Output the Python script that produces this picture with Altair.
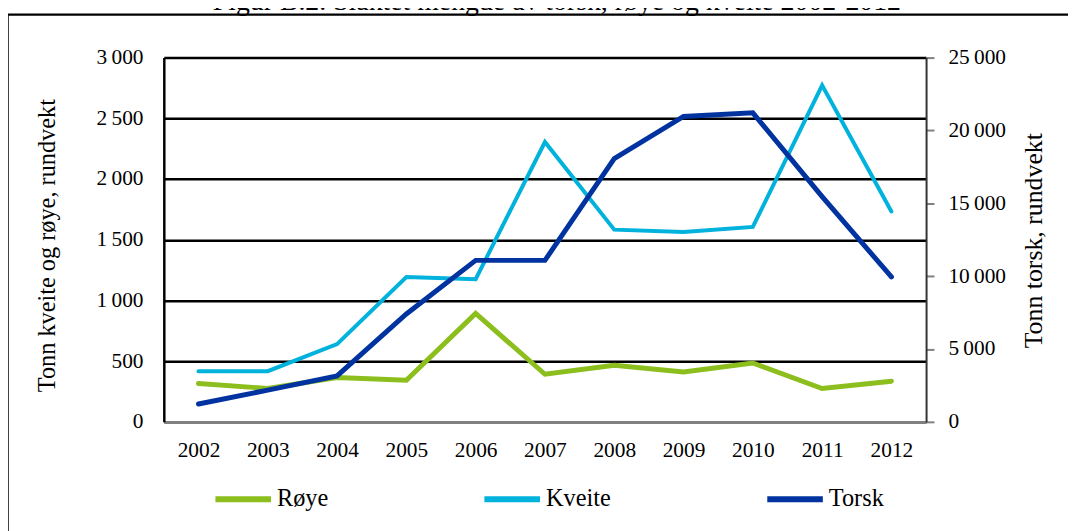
import altair as alt
import pandas as pd

# ---- data ----
years = ["2002", "2003", "2004", "2005", "2006", "2007", "2008", "2009", "2010", "2011", "2012"]
roye = [316, 275, 365, 343, 893, 392, 466, 411, 485, 275, 335]
kveite = [417, 417, 640, 1193, 1175, 2305, 1583, 1564, 1605, 2771, 1733]
torsk = [1226, 2180, 3154, 7404, 11083, 11083, 18072, 20960, 21206, 15463, 9946]

series_names = ["Røye", "Kveite", "Torsk"]
colors = ["#8CBE1E", "#00B2DC", "#0033A0"]
left_ticks = [0, 500, 1000, 1500, 2000, 2500, 3000]
right_ticks = [0, 5000, 10000, 15000, 20000, 25000]

title_text = "Figur B.2. Slaktet mengde av torsk, røye og kveite 2002-2012"
left_title = "Tonn kveite og røye, rundvekt"
right_title = "Tonn torsk, rundvekt"

rows = []
for name, vals in zip(series_names, [roye, kveite, torsk]):
    for yr, v in zip(years, vals):
        rows.append({"År": yr, "Serie": name, "Verdi": v})
df = pd.DataFrame(rows)

W, H = 768, 367
FONT = "Liberation Serif"
THIN = "\u2009"
label_expr = "replace(format(datum.value, ','), ',', '" + THIN + "')"

color = alt.Color(
    "Serie:N",
    scale=alt.Scale(domain=series_names, range=colors),
    legend=alt.Legend(
        title=None, orient="none", direction="horizontal",
        legendX=49, legendY=414,
        symbolType="stroke", symbolSize=3136, symbolStrokeWidth=6,
        labelFontSize=24.5, labelFont=FONT, labelColor="black",
        labelOffset=3, columnPadding=145, padding=0, labelLimit=0,
    ),
)

x = alt.X(
    "År:O",
    scale=alt.Scale(type="point", padding=0.5),
    axis=alt.Axis(
        title=None, labelAngle=0, ticks=False, domainColor="#808080", domainWidth=2.5,
        labelFontSize=21.5, labelFont=FONT, labelColor="black", labelPadding=18,
    ),
)

y_left = alt.Y(
    "Verdi:Q",
    scale=alt.Scale(domain=[0, 3000], nice=False),
    axis=alt.Axis(
        title=left_title, values=left_ticks, grid=True, gridColor="black", gridWidth=2.5,
        ticks=False, domainColor="black", domainWidth=2.5, labelExpr=label_expr,
        labelPadding=21, labelFontSize=21.5, labelFont=FONT, labelColor="black",
        titleAngle=270, titleX=-117, titleY=189, titleAlign="center", titleBaseline="middle",
        titleFontSize=24.5, titleFont=FONT, titleFontWeight="normal", titleColor="black",
    ),
)

y_right = alt.Y(
    "Verdi:Q",
    scale=alt.Scale(domain=[0, 25000], nice=False),
    axis=alt.Axis(
        orient="right", title=right_title, values=right_ticks, grid=False,
        ticks=True, tickColor="#808080", tickWidth=2, tickSize=8,
        domainColor="#333333", domainWidth=2, labelExpr=label_expr,
        labelPadding=14, labelFontSize=21.5, labelFont=FONT, labelColor="black",
        titleAngle=270, titleX=108, titleY=184, titleAlign="center", titleBaseline="middle",
        titleFontSize=26, titleFont=FONT, titleFontWeight="normal", titleColor="black",
    ),
)

base = alt.Chart(df).encode(x=x, color=color)

roye_l = base.transform_filter(alt.datum.Serie == "Røye").mark_line(strokeWidth=5, strokeCap="round").encode(y=y_left)
kveite_l = base.transform_filter(alt.datum.Serie == "Kveite").mark_line(strokeWidth=4, strokeCap="round").encode(y=y_left)
torsk_l = base.transform_filter(alt.datum.Serie == "Torsk").mark_line(strokeWidth=5, strokeCap="round").encode(y=y_right)

title_df = pd.DataFrame({"t": [title_text]})
frame = alt.Chart(title_df).mark_rect(filled=False, stroke="black", strokeWidth=2.5).encode(
    x=alt.value(-157.5), y=alt.value(-43.3), x2=alt.value(W + 500), y2=alt.value(H + 500)
)
title = alt.Chart(title_df).mark_text(
    font=FONT, fontSize=28, align="center", baseline="alphabetic", color="black"
).encode(text="t:N", x=alt.value(396), y=alt.value(-48))

chart = (
    alt.layer(alt.layer(roye_l, kveite_l), torsk_l, frame, title)
    .resolve_scale(y="independent")
    .properties(
        width=W, height=H,
        autosize=alt.AutoSizeParams(type="none"),
        padding={"left": 157, "top": 48, "right": 143, "bottom": 108},
        background="white",
    )
    .configure_view(strokeWidth=0)
)

chart.save("out.html", embed_options={"renderer": "svg", "actions": False})
